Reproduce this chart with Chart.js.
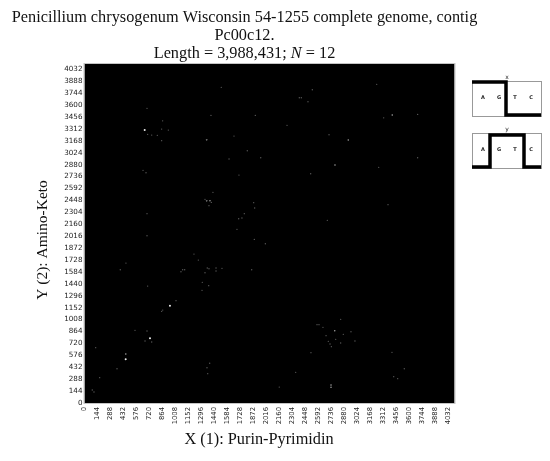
<!DOCTYPE html>
<html>
<head>
<meta charset="utf-8">
<style>
body{margin:0;background:#fff;}
#wrap{width:550px;height:461px;}
</style>
<script src="https://cdn.jsdelivr.net/npm/chart.js@4"></script>
</head>
<body>
<div id="wrap"><canvas id="cgr" width="550" height="461"></canvas></div>
<script>
const tickValues=[0,144,288,432,576,720,864,1008,1152,1296,1440,1584,1728,1872,2016,2160,2304,2448,2592,2736,2880,3024,3168,3312,3456,3600,3744,3888,4032];

// faint spots
const faintX=[1514,692,1400,865,854,928,699,744,806,854,1352,1655,1802,1600,648,681,1710,1422,1334,1352,1404,1378,692,1769,1707,1743,1688,3235,2522,2378,2400,2474,1891,3312,3688,2242,2707,1951,3688,3257,2504,1873,1884,3360,2688,692,1212,1260,459,396,1068,1087,1109,1359,1378,1456,1522,1456,1334,1304,699,1375,1301,1013,866,854,559,692,670,744,124,456,1386,360,1356,1364,168,86,105,1880,2002,1851,2836,2574,2596,2640,2950,2865,2674,2781,2994,2699,2836,2718,2733,2507,3404,3540,2338,3423,3467,2156];
const faintY=[3814,3560,3475,3410,3310,3298,3246,3237,3234,3169,3181,3225,3048,2948,2811,2782,2754,2545,2461,2444,2424,2384,2287,2287,2226,2235,2098,3850,3785,3688,3688,3640,3475,3446,3487,3355,3241,2963,2963,2847,2770,2420,2356,2396,2207,2021,1800,1727,1691,1610,1586,1610,1610,1631,1622,1631,1627,1595,1574,1458,1413,1417,1361,1236,1123,1108,878,870,749,737,668,592,480,414,426,354,306,157,133,1977,1924,1610,1011,946,946,914,861,830,813,769,749,745,725,713,680,608,612,414,371,318,294,193];
// medium spots
const midX=[1352,1389,1352,3407,2920,2773,2729,2729,456,2770];
const midY=[3181,2444,2444,3479,3177,2875,217,190,592,873];
// bright spots
const brightX=[666,946,725,456];
const brightY=[3298,1175,782,528];

const titleLines=["Penicillium chrysogenum Wisconsin 54-1255 complete genome, contig","Pc00c12."];
const xTitle="X (1): Purin-Pyrimidin";
const yTitle="Y (2): Amino-Keto";
const serif='"Liberation Serif",serif';

function toPoints(xs,ys){
    return xs.map((x,i)=>({x:x,y:ys[i]}));
}

function drawInset(ctx,top,label,path,lineW){
    ctx.strokeStyle="#999";
    ctx.lineWidth=1;
    ctx.strokeRect(472.5,top+.5,69,35);
    ctx.strokeStyle="#000";
    ctx.lineWidth=lineW;
    ctx.beginPath();
    path.forEach((p,i)=>i?ctx.lineTo(p[0],p[1]):ctx.moveTo(p[0],p[1]));
    ctx.stroke();
    ctx.fillStyle="#222";
    ctx.textAlign="center";
    ctx.textBaseline="middle";
    ctx.font='bold 5px "DejaVu Sans"';
    ["A","G","T","C"].forEach((b,i)=>ctx.fillText(b,483+i*16,top+17));
    ctx.font='6px "DejaVu Sans"';
    ctx.fillText(label,507,top-4);
}

const page={
    id:"page",
    beforeDatasetsDraw(chart){
        const {ctx,chartArea:a}=chart;
        ctx.save();
        ctx.fillStyle="#000";
        ctx.fillRect(a.left,a.top,a.right-a.left,a.bottom-a.top);
        ctx.strokeStyle="#c4c4c4";
        ctx.lineWidth=1;
        ctx.strokeRect(a.left-.5,a.top-.5,a.right-a.left+1,a.bottom-a.top+1);
        ctx.restore();
    },
    afterDraw(chart){
        const ctx=chart.ctx;
        ctx.save();
        ctx.fillStyle="#111";
        ctx.textBaseline="alphabetic";
        ctx.textAlign="center";
        ctx.font="16.3px "+serif;
        ctx.fillText(titleLines[0],244.5,22);
        ctx.fillText(titleLines[1],244.5,40);
        ctx.fillText(xTitle,259,444);
        // third line has an italic N
        const parts=[["Length = 3,988,431; ","16.3px "+serif],["N","italic 16.3px "+serif],[" = 12","16.3px "+serif]];
        let w=0;
        for(const p of parts){ctx.font=p[1];w+=ctx.measureText(p[0]).width;}
        let x=244.5-w/2;
        ctx.textAlign="left";
        for(const p of parts){
            ctx.font=p[1];
            ctx.fillText(p[0],x,58);
            x+=ctx.measureText(p[0]).width;
        }
        ctx.save();
        ctx.translate(47,240);
        ctx.rotate(-Math.PI/2);
        ctx.textAlign="center";
        ctx.font="15.5px "+serif;
        ctx.fillText(yTitle,0,0);
        ctx.restore();
        drawInset(ctx,81,"x",[[472,82],[506,82],[506,115],[541,115]],3.5);
        drawInset(ctx,133,"y",[[472,167],[490,167],[490,135],[524,135],[524,167],[541,167]],3.5);
        ctx.restore();
    }
};

function axis(rot,size,fontSize,pad){
    return {
        type:"linear",
        min:0,
        max:4096,
        afterBuildTicks(s){s.ticks=tickValues.map(v=>({value:v}));},
        afterFit(s){
            if(s.isHorizontal())s.height=size;
            else s.width=size;
        },
        grid:{display:false,drawTicks:false},
        border:{display:false},
        ticks:{
            autoSkip:false,
            maxRotation:rot,
            minRotation:rot,
            padding:pad,
            color:"#222",
            font:{family:"DejaVu Sans",size:fontSize},
            callback:v=>String(v)
        }
    };
}

new Chart(document.getElementById("cgr"),{
    type:"scatter",
    data:{datasets:[
        {label:"faint",data:toPoints(faintX,faintY),backgroundColor:"#5c5c5c",pointRadius:.65,borderWidth:0},
        {label:"medium",data:toPoints(midX,midY),backgroundColor:"#a0a0a0",pointRadius:.8,borderWidth:0},
        {label:"bright",data:toPoints(brightX,brightY),backgroundColor:"#eeeeee",pointRadius:1,borderWidth:0}
    ]},
    options:{
        responsive:false,
        animation:false,
        layout:{padding:{left:0,right:95.5,top:64,bottom:0}},
        plugins:{legend:{display:false},tooltip:{enabled:false}},
        scales:{x:axis(90,58,6.8,4),y:axis(0,84.5,7.2,2)}
    },
    plugins:[page]
});
</script>
</body>
</html>
